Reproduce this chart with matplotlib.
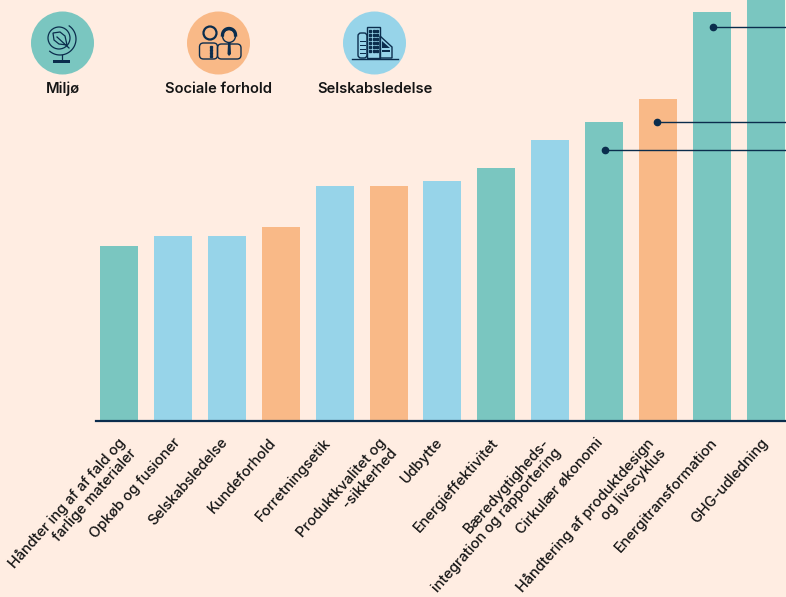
import numpy as np
import matplotlib.pyplot as plt
from matplotlib.patches import Circle, Rectangle, Polygon, FancyBboxPatch
from matplotlib.transforms import ScaledTranslation

plt.rcParams['font.family'] = ['Inter', 'DejaVu Sans']

# Data (bar height in pixels above the baseline)
categories = ['Håndter ing af af fald og\nfarlige materialer', 'Opkøb og fusioner', 'Selskabsledelse',
              'Kundeforhold', 'Forretningsetik', 'Produktkvalitet og\n-sikkerhed', 'Udbytte',
              'Energieffektivitet', 'Bæredygtigheds-\nintegration og rapportering', 'Cirkulær økonomi',
              'Håndtering af produktdesign\nog livscyklus', 'Energitransformation', 'GHG-udledning']
values = [175, 185, 185, 194, 235, 235, 240, 253, 281, 299, 322, 409, 440]
groups = ['M', 'S', 'S', 'O', 'S', 'O', 'S', 'M', 'S', 'M', 'O', 'M', 'M']
legend_labels = ['Miljø', 'Sociale forhold', 'Selskabsledelse']

# callouts: bar index, height
callout_bars = [9, 10, 11]
callout_heights = [271, 299, 394]

# small shifts of the rotated labels, in pixels
label_dx = [-2, 0, -7, -12, -11, -10, -7, -5, -8, -9, -12, -2, -5]

BG = '#FFEDE2'
NAVY = '#0B2D4D'
colors = {'M': '#7AC6C0', 'O': '#F9B987', 'S': '#97D4E9'}

W, H = 786, 597
fig = plt.figure(figsize=(W / 100, H / 100), dpi=100, facecolor=BG)

# main chart
base = 421
pitch = 53.9
left = 96
ax = fig.add_axes([left / W, 1 - base / H, 1 - left / W, base / H])
ax.set_facecolor('none')
x = np.arange(len(values))
ax.bar(x, values, width=38 / pitch, color=[colors[g] for g in groups], zorder=2)
ax.set_xlim((left - 119) / pitch, (W - 119) / pitch)
ax.set_ylim(0, base)
ax.set_yticks([])
ax.set_xticks(x)
ax.set_xticklabels(categories, rotation=48.5, ha='right', va='top', rotation_mode='anchor',
                   multialignment='right', fontsize=10.5, fontweight='medium', color='#151515',
                   linespacing=1.08)
ax.tick_params(axis='x', length=0, pad=10.5)
for lab, dx in zip(ax.get_xticklabels(), label_dx):
    lab.set_transform(lab.get_transform() + ScaledTranslation(dx / 100, 0, fig.dpi_scale_trans))
for s in ['top', 'left', 'right']:
    ax.spines[s].set_visible(False)
ax.spines['bottom'].set_color(NAVY)
ax.spines['bottom'].set_linewidth(1.6)

for b, h, off in zip(callout_bars, callout_heights, [0.02, -0.02, 0.02]):
    ax.plot([b + off, 13], [h, h], color=NAVY, lw=1, zorder=3, solid_capstyle='butt')
    ax.plot([b + off], [h], 'o', color=NAVY, ms=4.5, zorder=4)

# legend icons, drawn in pixel space
ic = fig.add_axes([0, 0, 1, 1])
ic.set_xlim(0, W)
ic.set_ylim(H, 0)
ic.axis('off')
ic.set_facecolor('none')

for cx, key, lab in zip([62.5, 218.5, 374.5], ['M', 'O', 'S'], legend_labels):
    ic.add_patch(Circle((cx, 43), 31.5, color=colors[key], lw=0))
    ic.text(cx, 89, lab, ha='center', va='center', fontsize=10.6, fontweight='semibold', color='#151515')

# globe with leaf
lw = 0.9
ic.add_patch(Circle((59, 38), 11, fill=False, ec=NAVY, lw=lw))
t = np.radians(np.linspace(-55, 130, 40))
ic.plot(60 + 16 * np.cos(t), 39 + 16 * np.sin(t), color=NAVY, lw=lw)
ic.add_patch(Polygon([[53, 33], [60, 32], [65, 36], [67, 45], [59, 44], [54, 40]], closed=True,
                     fill=False, ec=NAVY, lw=lw))
ic.plot([57, 69], [37, 48], color=NAVY, lw=lw)
ic.plot([62, 62], [55, 60], color=NAVY, lw=lw)
ic.add_patch(Rectangle((53, 60), 17, 3, color=NAVY, lw=0))

# two people
ic.add_patch(Circle((210, 33), 6.5, fill=False, ec=NAVY, lw=1.6))
ic.add_patch(Circle((229, 36), 6.5, fill=False, ec=NAVY, lw=1))
t = np.radians(np.linspace(180, 360, 20))
ic.plot(229 + 6.5 * np.cos(t), 35 + 6.5 * np.sin(t), color=NAVY, lw=2.4)
ic.add_patch(FancyBboxPatch((199.5, 43), 18, 16, boxstyle='round,pad=0,rounding_size=4', fill=False, ec=NAVY, lw=1))
ic.add_patch(FancyBboxPatch((217.5, 44), 23.5, 15, boxstyle='round,pad=0,rounding_size=4', fill=False, ec=NAVY, lw=1))
ic.add_patch(Polygon([[228, 43], [230.5, 43], [231, 54], [229, 56], [227.5, 54]], color=NAVY, lw=0))
ic.plot([211] * 4, [47, 50, 53, 56], 's', color=NAVY, ms=1.4)

# buildings
ic.plot([352, 398], [58.5, 58.5], color=NAVY, lw=1)
ic.add_patch(Rectangle((367, 27), 13, 31, fill=False, ec=NAVY, lw=1))
ic.add_patch(FancyBboxPatch((358, 33), 9, 25, boxstyle='round,pad=0,rounding_size=3', fill=False, ec=NAVY, lw=1))
ic.add_patch(Polygon([[380, 36], [392, 47], [392, 58], [380, 58]], closed=True, fill=False, ec=NAVY, lw=1))
ic.add_patch(Polygon([[382, 41], [390, 48], [382, 48]], color=NAVY, lw=0))
ic.add_patch(Rectangle((382, 50), 8, 1.5, color=NAVY, lw=0))
for wy in [31, 35, 39, 43, 47, 51]:
    ic.plot([370, 373.5, 377], [wy] * 3, 's', color=NAVY, ms=1.6)
for wy in [41, 45, 49, 53]:
    ic.add_patch(Rectangle((359.5, wy), 6, 1.4, color=NAVY, lw=0))

fig.savefig('out.png', dpi=100, facecolor=BG)
